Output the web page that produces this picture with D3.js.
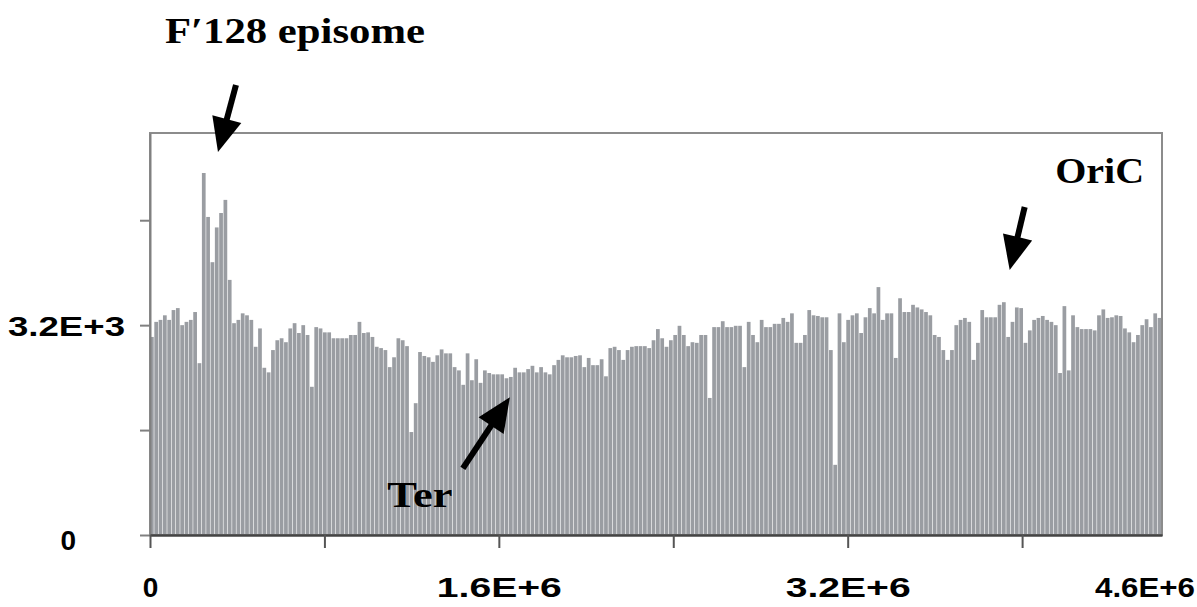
<!DOCTYPE html>
<html>
<head>
<meta charset="utf-8">
<script src="https://cdn.jsdelivr.net/npm/d3@7"></script>
<style>
  body { margin: 0; background: #fff; }
  svg { display: block; }
  .axis text { font-family: "Liberation Sans", Arial, sans-serif; font-weight: bold; fill: #000; }
  .note { font-family: "Liberation Serif", "Times New Roman", serif; font-weight: bold; fill: #000; }
</style>
</head>
<body>
<svg id="chart"></svg>
<script>
const GENOME_LENGTH = 4641652;

// reads per bin along the chromosome
const coverage = [
  3020, 3250, 3280, 3350, 3280, 3430, 3460, 3200, 3250, 3280, 3400, 2620,
  5520, 4850, 4160, 4690, 4910, 5110, 3890, 3230, 3280, 3380, 3350, 3280,
  2870, 3150, 2550, 2480, 2820, 2970, 3000, 2940, 3150, 3230, 3080, 3200,
  3050, 2260, 3170, 3150, 3090, 3090, 3000, 3000, 3000, 3000, 3050, 3050,
  3250, 3080, 3090, 3020, 2870, 2850, 2820, 2560, 2710, 3000, 2970, 2880,
  1570, 2010, 2790, 2730, 2710, 2640, 2740, 2830, 2770, 2770, 2560, 2510,
  2290, 2770, 2360, 2680, 2320, 2510, 2470, 2450, 2450, 2450, 2390, 2410,
  2550, 2480, 2480, 2530, 2580, 2480, 2560, 2480, 2450, 2590, 2670, 2740,
  2710, 2710, 2730, 2740, 2560, 2700, 2590, 2590, 2680, 2420, 2850, 2870,
  2820, 2670, 2820, 2870, 2880, 2880, 2880, 2850, 2970, 3140, 3000, 2870,
  2970, 3050, 3190, 3050, 2880, 2940, 2930, 3050, 3050, 2090, 3170, 3170,
  3260, 3170, 3170, 3190, 3190, 2560, 3250, 3050, 2940, 3280, 3170, 3170,
  3220, 3220, 3310, 3250, 3380, 2930, 2930, 3050, 3430, 3350, 3340, 3320,
  3320, 2820, 1070, 3380, 2940, 3280, 3350, 3380, 3080, 3320, 3460, 3380,
  3780, 3280, 3380, 3380, 2700, 3610, 3400, 3400, 3510, 3470, 3440, 3400,
  3350, 3050, 3020, 2820, 2670, 2820, 3200, 3280, 3310, 3250, 2670, 2930,
  3430, 3320, 3320, 3320, 3510, 3550, 3020, 3250, 3470, 3460, 2930, 3120,
  3280, 3310, 3340, 3280, 3250, 3200, 2470, 3490, 2510, 3350, 3170, 3140,
  3140, 3140, 3120, 3350, 3440, 3310, 3320, 3350, 3340, 3150, 3090, 2940,
  3050, 3200, 3290, 3170, 3380, 3310
];

const yMax = 6130;
const yTicks = [0, 1600, 3200, 4800];
const yTickLabels = new Map([[0, '0'], [3200, '3.2E+3']]);
const xTicks = [0, 800000, 1600000, 2400000, 3200000, 4000000];
const xTickLabels = new Map([[0, '0'], [1600000, '1.6E+6'], [3200000, '3.2E+6']]);
const xEndLabel = '4.6E+6';

// arrows: tip in data space, tail and label as pixel offsets from the tip
const annotations = [
  {label: 'F\u2032128 episome', x: 311800, y: 5840, tail: [18, -67], text: [77, -109], len: 260},
  {label: 'OriC', x: 3943000, y: 4040, tail: [15, -63], text: [90, -87], len: 89},
  {label: 'Ter', x: 1650600, y: 2100, tail: [-47, 71], text: [-90, 110], len: 65}
];

const config = {
  width: 1197,
  height: 607,
  margin: {top: 133, right: 35, bottom: 72, left: 150}
};
const width = config.width - config.margin.left - config.margin.right;
const height = config.height - config.margin.top - config.margin.bottom;

const svg = d3.select('#chart')
  .attr('width', config.width)
  .attr('height', config.height);

const chart = svg.append('g')
  .attr('transform', `translate(${config.margin.left},${config.margin.top})`);

const xScale = d3.scaleLinear()
  .domain([0, GENOME_LENGTH])
  .range([0, width]);

const yScale = d3.scaleLinear()
  .domain([0, yMax])
  .range([height, 0]);

const binSize = GENOME_LENGTH / coverage.length;

// bars
chart.append('g')
  .selectAll('rect')
  .data(coverage)
  .join('rect')
  .attr('x', (d, i) => xScale(i * binSize))
  .attr('y', d => yScale(d))
  .attr('width', xScale(binSize) - 0.6)
  .attr('height', d => yScale(0) - yScale(d))
  .attr('fill', '#9a9da2');

// frame
chart.append('rect')
  .attr('width', width)
  .attr('height', height)
  .attr('fill', 'none')
  .attr('stroke', '#8c8c8c')
  .attr('stroke-width', 2);

const yAxis = d3.axisLeft(yScale)
  .tickValues(yTicks)
  .tickSize(10)
  .tickSizeOuter(0)
  .tickPadding(15)
  .tickFormat(d => yTickLabels.get(d) || '');

chart.append('g')
  .attr('class', 'axis y-axis')
  .call(yAxis)
  .call(g => g.select('.domain').attr('stroke', '#808080').attr('stroke-width', 2))
  .call(g => g.selectAll('.tick line').attr('stroke', '#808080').attr('stroke-width', 2))
  .call(g => g.selectAll('.tick text')
    .attr('font-size', 28)
    .attr('x', d => d === 0 ? -74 : -25)
    .attr('dy', d => d === 0 ? '0.5em' : '0.36em')
    .each(function(d) { if (d === 3200) d3.select(this).attr('textLength', 117).attr('lengthAdjust', 'spacingAndGlyphs'); }));

const xAxis = d3.axisBottom(xScale)
  .tickValues(xTicks)
  .tickSize(13)
  .tickSizeOuter(0)
  .tickPadding(29)
  .tickFormat(d => xTickLabels.get(d) || '');

const xAxisG = chart.append('g')
  .attr('class', 'axis x-axis')
  .attr('transform', `translate(0,${height})`)
  .call(xAxis)
  .call(g => g.select('.domain').attr('stroke', '#444').attr('stroke-width', 2.5))
  .call(g => g.selectAll('.tick line').attr('stroke', '#555').attr('stroke-width', 2))
  .call(g => g.selectAll('.tick text')
    .attr('font-size', 28)
    .each(function(d) { if (d > 0) d3.select(this).attr('textLength', 125).attr('lengthAdjust', 'spacingAndGlyphs'); }));

xAxisG.append('text')
  .attr('x', width + 33)
  .attr('y', 42)
  .attr('dy', '0.71em')
  .attr('text-anchor', 'end')
  .attr('font-size', 28)
  .attr('textLength', 100)
  .attr('lengthAdjust', 'spacingAndGlyphs')
  .text(xEndLabel);

// arrows and labels
const notes = chart.append('g');

annotations.forEach(a => {
  const tx = xScale(a.x), ty = yScale(a.y);
  const sx = tx + a.tail[0], sy = ty + a.tail[1];
  const ang = Math.atan2(ty - sy, tx - sx);
  const headLen = 34, headHalf = 15;
  const bx = tx - headLen * Math.cos(ang), by = ty - headLen * Math.sin(ang);
  notes.append('line')
    .attr('x1', sx).attr('y1', sy)
    .attr('x2', bx + 4 * Math.cos(ang)).attr('y2', by + 4 * Math.sin(ang))
    .attr('stroke', '#000')
    .attr('stroke-width', 6);
  notes.append('path')
    .attr('d', d3.line()([
      [tx, ty],
      [bx + headHalf * Math.sin(ang), by - headHalf * Math.cos(ang)],
      [bx - headHalf * Math.sin(ang), by + headHalf * Math.cos(ang)]
    ]) + 'Z')
    .attr('fill', '#000');
  notes.append('text')
    .attr('class', 'note')
    .attr('x', tx + a.text[0])
    .attr('y', ty + a.text[1])
    .attr('text-anchor', 'middle')
    .attr('font-size', 35)
    .attr('textLength', a.len)
    .attr('lengthAdjust', 'spacingAndGlyphs')
    .text(a.label);
});
</script>
</body>
</html>
